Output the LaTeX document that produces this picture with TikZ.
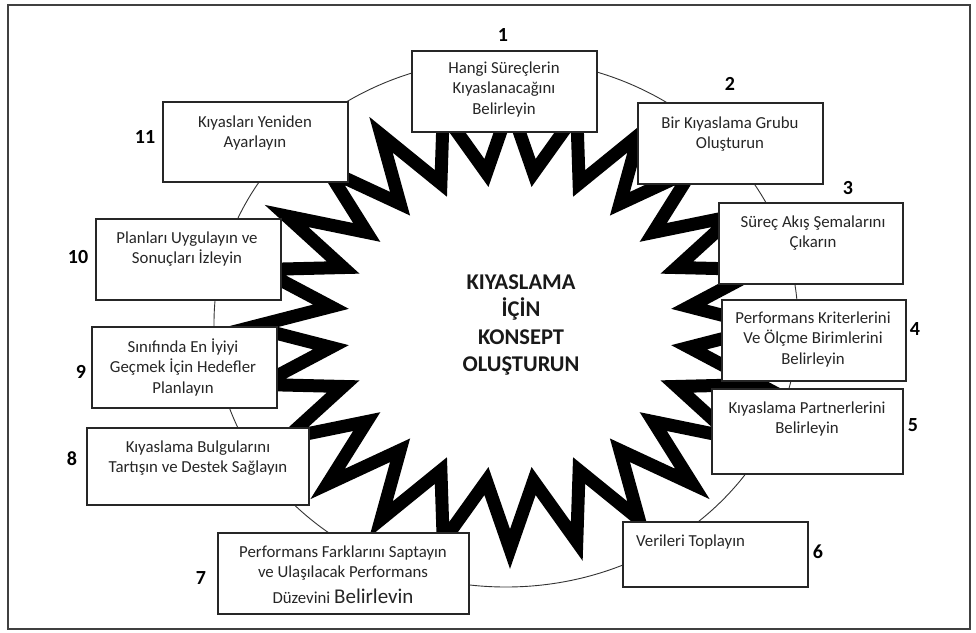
\documentclass[tikz,border=0pt]{standalone}
\usepackage{fontspec}
\setmainfont{Carlito}
% fixed first-line heights so text blocks can be placed by their top edge
\newcommand\bstrut{\rule{0pt}{14pt}}
\newcommand\cstrut{\rule{0pt}{17pt}}
\begin{document}
\begin{tikzpicture}[x=1pt,y=-1pt,
  frame/.style={draw=black!75, line width=1.2pt},
  ring/.style={draw=black!80, line width=0.9pt},
  burst/.style={draw=black, fill=white, line width=13pt, line join=miter, miter limit=20},
  stepbox/.style={draw=black!85, line width=1.3pt, fill=white, inner sep=0pt},
  boxtext/.style={anchor=north, inner sep=0pt, align=center, text=black!85,
    font=\fontsize{16.8}{20.5}\selectfont},
  numlabel/.style={inner sep=0pt, font=\fontsize{20}{24}\selectfont\bfseries},
  hubtext/.style={anchor=north, inner sep=0pt, align=center, text=black!90,
    font=\fontsize{22.5}{27.5}\selectfont\bfseries}]

\useasboundingbox (0,0) rectangle (976,632);
\fill[white] (0,0) rectangle (976,632);
\draw[frame] (8,5) rectangle (970,629);

% the cycle ring
\draw[ring] (506,323) ellipse [x radius=292, y radius=264];

% 24-point burst in the middle
\draw[burst] plot[samples at={0,1,...,47}, variable=\k]
  ({510 + 258*(0.85+0.15*cos(180*\k))*cos(90+7.5*\k)},
   {327 + 222*(0.85+0.15*cos(180*\k))*sin(90+7.5*\k)}) -- cycle;

\node[hubtext] (hub) at (521,272) {\cstrut KIYASLAMA\\İÇİN\\KONSEPT\\OLUŞTURUN};

% step boxes
\node[stepbox, minimum width=185, minimum height=81] (b1)  at (504.5,91.5)  {};
\node[stepbox, minimum width=185, minimum height=81] (b2)  at (730.5,143.5) {};
\node[stepbox, minimum width=184, minimum height=81] (b3)  at (811,243.5)   {};
\node[stepbox, minimum width=184, minimum height=81] (b4)  at (814,340.5)   {};
\node[stepbox, minimum width=191, minimum height=85] (b5)  at (807.5,431.5) {};
\node[stepbox, minimum width=185, minimum height=65] (b6)  at (715.5,554.5) {};
\node[stepbox, minimum width=251, minimum height=81] (b7)  at (343.5,573.5) {};
\node[stepbox, minimum width=222, minimum height=77] (b8)  at (198,466.5)   {};
\node[stepbox, minimum width=185, minimum height=81] (b9)  at (184.5,367.5) {};
\node[stepbox, minimum width=185, minimum height=81] (b10) at (188.5,259.5) {};
\node[stepbox, minimum width=185, minimum height=80] (b11) at (255.5,142)   {};

% box texts
\node[boxtext] (t1)  at (504,59)  {\bstrut Hangi Süreçlerin\\Kıyaslanacağını\\Belirleyin};
\node[boxtext] (t2)  at (730,114) {\bstrut Bir Kıyaslama Grubu\\Oluşturun};
\node[boxtext] (t3)  at (813,213) {\bstrut Süreç Akış Şemalarını\\Çıkarın};
\node[boxtext] (t4)  at (813,309) {\bstrut Performans Kriterlerini\\Ve Ölçme Birimlerini\\Belirleyin};
\node[boxtext] (t5)  at (807,399) {\bstrut Kıyaslama Partnerlerini\\Belirleyin};
\node[boxtext, anchor=north west] (t6) at (636,532) {\bstrut Verileri Toplayın};
\node[boxtext] (t7)  at (343,543) {\bstrut Performans Farklarını Saptayın\\ve Ulaşılacak Performans\\[5.5pt]Düzevini {\fontsize{21}{25}\selectfont Belirlevin}};
\node[boxtext] (t8)  at (198,438) {\bstrut Kıyaslama Bulgularını\\Tartışın ve Destek Sağlayın};
\node[boxtext] (t9)  at (183,338) {\bstrut Sınıfında En İyiyi\\Geçmek İçin Hedefler\\Planlayın};
\node[boxtext] (t10) at (187,229) {\bstrut Planları Uygulayın ve\\Sonuçları İzleyin};
\node[boxtext] (t11) at (255,113) {\bstrut Kıyasları Yeniden\\Ayarlayın};

% step numbers
\node[numlabel] (n1)  at (503,35)  {1};
\node[numlabel] (n2)  at (730,84)  {2};
\node[numlabel] (n3)  at (848,188) {3};
\node[numlabel] (n4)  at (915,329) {4};
\node[numlabel] (n5)  at (913,425) {5};
\node[numlabel] (n6)  at (818,552) {6};
\node[numlabel] (n7)  at (201,578) {7};
\node[numlabel] (n8)  at (72,459)  {8};
\node[numlabel] (n9)  at (81,372)  {9};
\node[numlabel] (n10) at (78,257)  {10};
\node[numlabel] (n11) at (145,137) {11};
\end{tikzpicture}
\end{document}
